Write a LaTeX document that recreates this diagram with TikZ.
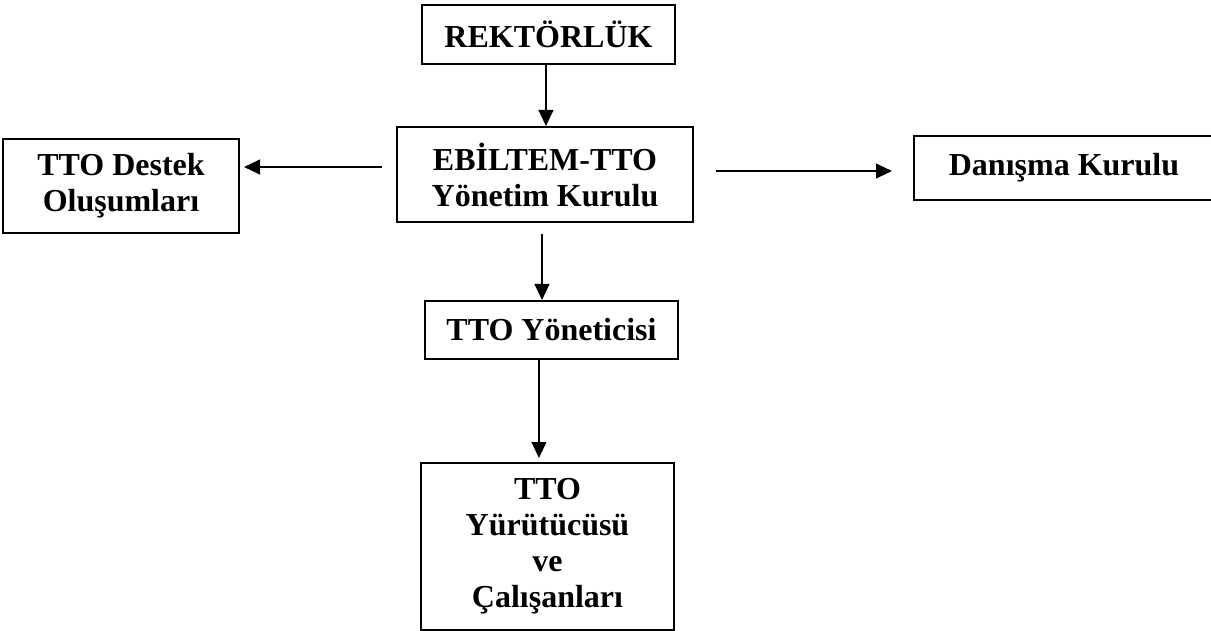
\documentclass[tikz,border=0pt]{standalone}
\usepackage{fontspec}
\setmainfont{Liberation Serif}
\usetikzlibrary{arrows.meta}

\tikzset{
  box/.style={draw, line width=1.5pt, inner sep=0pt, align=center,
    font=\bfseries\fontsize{24}{27}\selectfont},
  arr/.style={line width=1.6pt, -{Triangle[width=11pt,length=12pt]}}
}

\begin{document}
\begin{tikzpicture}[x=0.75pt, y=-0.75pt]
\useasboundingbox (0,0) rectangle (1211,631);

\node[box, minimum width=189.75pt, minimum height=44.25pt] (rek) at (548.5,34.5) {REKTÖRLÜK};
\node[box, minimum width=222pt, minimum height=71.25pt] (ebil) at (545,174.5) {EBİLTEM-TTO\\Yönetim Kurulu};
\node[box, minimum width=177pt, minimum height=70.5pt] (destek) at (121,186) {TTO Destek\\Oluşumları};
\node[box, minimum width=225pt, minimum height=48pt] (danisma) at (1064,168) {Danışma Kurulu};
\node[box, minimum width=189.75pt, minimum height=43.5pt] (yon) at (551.5,330) {TTO Yöneticisi};
\node[box, minimum width=189.75pt, minimum height=125.25pt] (yurut) at (547.5,546.5) {TTO\\Yürütücüsü\\ve\\Çalışanları};

\coordinate (ls) at ([shift={(-14,-7.5)}]ebil.west);
\coordinate (rs) at ([shift={(22,-3.5)}]ebil.east);
\coordinate (ds) at ([shift={(-3,11)}]ebil.south);
\coordinate (ys) at ([xshift=-9.4pt]yon.south);

\draw[arr] ([xshift=-1.9pt]rek.south) -- ([xshift=-1.9pt]rek.south |- ebil.north);
\draw[arr, shorten >=3pt] (ls) -- (ls -| destek.east);
\draw[arr, shorten >=15.75pt] (rs) -- (rs -| danisma.west);
\draw[arr] (ds) -- (ds |- yon.north);
\draw[arr, shorten >=3pt] (ys) -- (ys |- yurut.north);
\end{tikzpicture}
\end{document}
